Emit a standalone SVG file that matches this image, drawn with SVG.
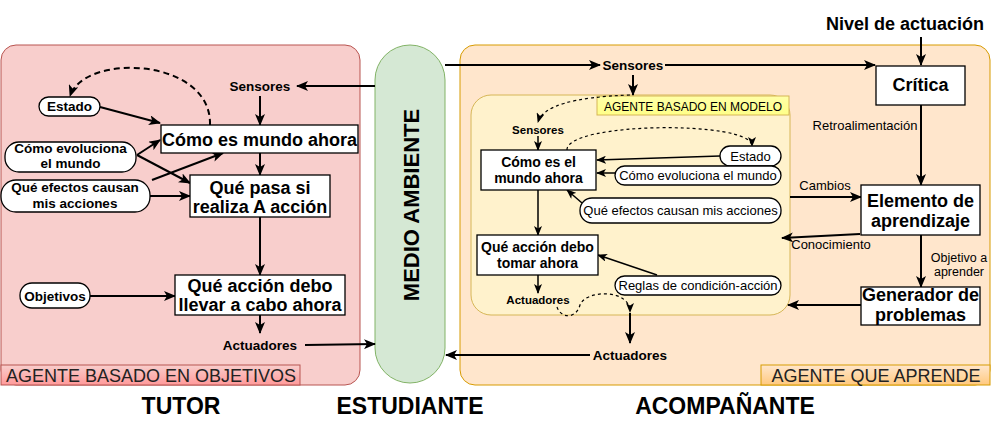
<svg xmlns="http://www.w3.org/2000/svg" width="992" height="436" viewBox="0 0 992 436">
<defs>
<marker id="ah" markerUnits="userSpaceOnUse" markerWidth="12" markerHeight="10" refX="11" refY="5" orient="auto">
<path d="M0,0 L12,5 L0,10 L3,5 z" fill="#000"/>
</marker>
<marker id="ahs" markerUnits="userSpaceOnUse" markerWidth="10" markerHeight="8" refX="9" refY="4" orient="auto">
<path d="M0,0 L10,4 L0,8 L2.5,4 z" fill="#000"/>
</marker>
<linearGradient id="gRed" x1="0" y1="0" x2="0" y2="1"><stop offset="0" stop-color="#f8cecc"/><stop offset="1" stop-color="#ff9a9a"/></linearGradient>
<linearGradient id="gOr" x1="0" y1="0" x2="0" y2="1"><stop offset="0" stop-color="#ffe6cc"/><stop offset="1" stop-color="#ffc97f"/></linearGradient>
<linearGradient id="gYe" x1="0" y1="0" x2="0" y2="1"><stop offset="0" stop-color="#ffffa8"/><stop offset="1" stop-color="#ffff88"/></linearGradient>
</defs>
<style>
text{font-family:"Liberation Sans",Arial,Helvetica,sans-serif;fill:#000}
.b{font-weight:bold}
.m{text-anchor:middle}
.box{fill:#fff;stroke:#000;stroke-width:1.3}
.pill{fill:#fff;stroke:#000;stroke-width:1.3}
.c2{fill:none;stroke:#000;stroke-width:2;marker-end:url(#ah)}
.c1{fill:none;stroke:#000;stroke-width:1.5;marker-end:url(#ahs)}
.d2{fill:none;stroke:#000;stroke-width:2;stroke-dasharray:6 4;marker-end:url(#ah)}
.d1{fill:none;stroke:#000;stroke-width:1.2;stroke-dasharray:3 3;marker-end:url(#ahs)}
.lbl{font-size:18px;fill:#222}
</style>

<g id="panel-tutor">
<rect x="1" y="45" width="359" height="340" rx="15" fill="#f8cecc" stroke="#b85450"/>
<rect x="1" y="365" width="299" height="20" fill="url(#gRed)" stroke="#b85450"/>
<text class="lbl" x="6" y="382">AGENTE BASADO EN OBJETIVOS</text>
</g>
<g id="medio-ambiente">
<rect x="375" y="45" width="70" height="338" rx="35" fill="#d5e8d4" stroke="#82b366"/>
<text class="b m" font-size="22" transform="translate(419,205) rotate(-90)">MEDIO AMBIENTE</text>
</g>
<g id="panel-aprende">
<rect x="460" y="45" width="530" height="340" rx="15" fill="#ffe6cc" stroke="#d79b00"/>
<rect x="761" y="365" width="229" height="20" fill="url(#gOr)" stroke="#d79b00"/>
<text class="lbl m" x="876" y="382">AGENTE QUE APRENDE</text>
</g>
<g id="panel-modelo">
<rect x="471" y="95" width="319" height="220" rx="20" fill="#fff2cc" stroke="#d6b656"/>
<rect x="597" y="96" width="192" height="19" fill="url(#gYe)" stroke="#d6b656"/>
<text class="m" x="693" y="111" font-size="12" fill="#222">AGENTE BASADO EN MODELO</text>
</g>

<g id="connectors">
<!-- left -->
<line class="c2" x1="375" y1="86" x2="297" y2="86"/>
<line class="c2" x1="260" y1="96" x2="260" y2="125"/>
<line class="c2" x1="100" y1="107" x2="160" y2="123"/>
<path class="d2" d="M210,125 C212,58 85,52 70,96"/>
<line class="c2" x1="137" y1="155" x2="160" y2="140"/>
<line class="c2" x1="137" y1="155" x2="190" y2="183"/>
<line class="c2" x1="152" y1="180" x2="223" y2="153"/>
<line class="c2" x1="150" y1="196" x2="190" y2="196"/>
<line class="c2" x1="260" y1="153" x2="260" y2="175"/>
<line class="c2" x1="260" y1="217" x2="260" y2="275"/>
<line class="c2" x1="90" y1="296" x2="175" y2="296"/>
<line class="c2" x1="260" y1="315" x2="260" y2="333"/>
<line class="c2" x1="305" y1="345" x2="375" y2="344"/>
<!-- right outer -->
<line class="c2" x1="445" y1="65" x2="600" y2="65"/>
<line class="c2" x1="665" y1="65" x2="875" y2="65"/>
<line class="c2" x1="633" y1="75" x2="633" y2="95"/>
<line class="c2" x1="921" y1="37" x2="921" y2="65"/>
<line class="c2" x1="921" y1="105" x2="921" y2="185"/>
<line class="c2" x1="790" y1="197" x2="861" y2="197"/>
<line class="c2" x1="860" y1="234" x2="782" y2="238"/>
<line class="c2" x1="921" y1="235" x2="921" y2="287"/>
<line class="c2" x1="861" y1="305" x2="788" y2="305"/>
<line class="c2" x1="630" y1="313" x2="630" y2="343"/>
<line class="c2" x1="590" y1="355" x2="446" y2="355"/>
<!-- right inner -->
<path class="d1" d="M630,95 Q545,98 538,122"/>
<line class="c1" x1="538" y1="136" x2="538" y2="150"/>
<path class="d1" d="M567,150 C566,122 752,120 752,146"/>
<line class="c1" x1="720" y1="156" x2="597" y2="160"/>
<line class="c1" x1="615" y1="173" x2="597" y2="173"/>
<line class="c1" x1="582" y1="203" x2="567" y2="190"/>
<line class="c1" x1="538" y1="190" x2="538" y2="235"/>
<line class="c1" x1="657" y1="275" x2="598" y2="255"/>
<line class="c1" x1="538" y1="275" x2="538" y2="293"/>
<path class="d1" d="M557,307 C561,319 576,319 580,305 C585,290 630,288 630,312"/>
</g>

<!-- left nodes -->
<g id="sensores-t"><text class="b m" x="260" y="91" font-size="13.5">Sensores</text></g>
<g id="estado-t"><rect class="pill" x="39" y="97" width="61" height="19" rx="9.5"/><text class="b m" x="69.5" y="111" font-size="13.5">Estado</text></g>
<g id="evoluciona-t"><rect class="pill" x="5" y="142" width="131" height="30" rx="14"/><text class="b m" x="70.5" y="153" font-size="13.5">Cómo evoluciona</text><text class="b m" x="70.5" y="168" font-size="13.5">el mundo</text></g>
<g id="efectos-t"><rect class="pill" x="1" y="180" width="149" height="32" rx="15"/><text class="b m" x="75" y="192" font-size="13.5">Qué efectos causan</text><text class="b m" x="75" y="208" font-size="13.5">mis acciones</text></g>
<g id="mundo-t"><rect class="box" x="161" y="125" width="197" height="28"/><text class="b m" x="259.5" y="146" font-size="18">Cómo es mundo ahora</text></g>
<g id="pasa-t"><rect class="box" x="190" y="175" width="140" height="42"/><text class="b m" x="260" y="194" font-size="18">Qué pasa si</text><text class="b m" x="260" y="213" font-size="18">realiza A acción</text></g>
<g id="objetivos-t"><rect class="pill" x="20" y="283" width="70" height="25" rx="12"/><text class="b m" x="55" y="301" font-size="13.5">Objetivos</text></g>
<g id="accion-t"><rect class="box" x="175" y="275" width="170" height="40"/><text class="b m" x="260" y="292" font-size="18">Qué acción debo</text><text class="b m" x="260" y="311" font-size="18">llevar a cabo ahora</text></g>
<g id="actuadores-t"><text class="b m" x="260" y="350" font-size="13.5">Actuadores</text></g>

<!-- right nodes -->
<g id="nivel"><text class="b m" x="905" y="30" font-size="18">Nivel de actuación</text></g>
<g id="sensores-a"><text class="b m" x="633" y="70" font-size="13.5">Sensores</text></g>
<g id="critica"><rect class="box" x="876" y="66" width="89" height="39"/><text class="b m" x="920.5" y="91" font-size="18">Crítica</text></g>
<g id="retro"><text class="m" x="865" y="130" font-size="13">Retroalimentación</text></g>
<g id="cambios"><text class="m" x="825" y="190" font-size="13">Cambios</text></g>
<g id="conocimiento"><text class="m" x="831" y="249" font-size="13">Conocimiento</text></g>
<g id="objetivo-apr"><text class="m" x="959" y="262" font-size="12.5">Objetivo a</text><text class="m" x="959" y="276" font-size="12.5">aprender</text></g>
<g id="elemento"><rect class="box" x="861" y="185" width="119" height="50"/><text class="b m" x="920.5" y="207" font-size="18">Elemento de</text><text class="b m" x="920.5" y="227" font-size="18">aprendizaje</text></g>
<g id="generador"><rect class="box" x="861" y="287" width="119" height="38"/><text class="b m" x="920.5" y="301" font-size="18">Generador de</text><text class="b m" x="920.5" y="321" font-size="18">problemas</text></g>
<g id="actuadores-a"><text class="b m" x="630" y="360" font-size="13.5">Actuadores</text></g>

<!-- inner model nodes -->
<g id="sensores-m"><text class="b m" x="538" y="134" font-size="11.5">Sensores</text></g>
<g id="mundo-m"><rect class="box" x="481" y="150" width="115" height="40"/><text class="b m" x="538.5" y="167" font-size="14">Cómo es el</text><text class="b m" x="538.5" y="183" font-size="14">mundo ahora</text></g>
<g id="estado-m"><rect class="pill" x="720" y="146" width="61" height="20" rx="10"/><text class="m" x="750.5" y="161" font-size="13">Estado</text></g>
<g id="evoluciona-m"><rect class="pill" x="615" y="166" width="166" height="19" rx="9.5"/><text class="m" x="698" y="180" font-size="13">Cómo evoluciona el mundo</text></g>
<g id="efectos-m"><rect class="pill" x="580" y="198" width="201" height="25" rx="12"/><text class="m" x="680.5" y="215" font-size="13">Qué efectos causan mis acciones</text></g>
<g id="accion-m"><rect class="box" x="477" y="235" width="121" height="40"/><text class="b m" x="537.5" y="252" font-size="14">Qué acción debo</text><text class="b m" x="537.5" y="268" font-size="14">tomar ahora</text></g>
<g id="reglas-m"><rect class="pill" x="615" y="276" width="166" height="19" rx="9.5"/><text class="m" x="698" y="290" font-size="13">Reglas de condición-acción</text></g>
<g id="actuadores-m"><text class="b m" x="538" y="304" font-size="11.5">Actuadores</text></g>

<g id="titles">
<text class="b m" x="181" y="414" font-size="23">TUTOR</text>
<text class="b m" x="410" y="414" font-size="23">ESTUDIANTE</text>
<text class="b m" x="725" y="414" font-size="23">ACOMPAÑANTE</text>
</g>
</svg>
